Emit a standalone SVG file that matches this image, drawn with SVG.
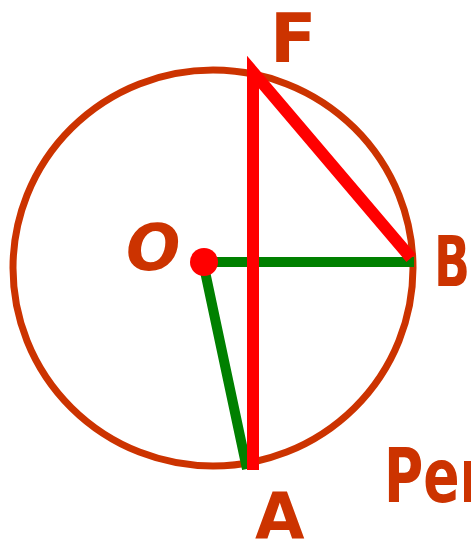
<svg xmlns="http://www.w3.org/2000/svg" width="471" height="541" viewBox="0 0 471 541">
<style>
.lbl{font-family:"DejaVu Sans","Liberation Sans",sans-serif;font-weight:bold;fill:#CC3300}
</style>
<rect width="471" height="541" fill="#fff"/>
<g id="circle"><ellipse cx="213" cy="268" rx="200" ry="198" fill="none" stroke="#CC3300" stroke-width="7"/></g>
<g id="connectors">
<polyline points="414,262 203,262 247,469" fill="none" stroke="#008000" stroke-width="10" stroke-linejoin="miter"/>
<polyline points="253,470 253,72 411,258" fill="none" stroke="#FF0000" stroke-width="12" stroke-linejoin="miter"/>
</g>
<g id="O"><circle cx="204" cy="262" r="14" fill="#FF0000"/><text class="lbl" x="126" y="270" font-size="64" font-style="italic">O</text></g>
<g id="F"><text class="lbl" x="270" y="62" font-size="68">F</text></g>
<g id="B"><text class="lbl" x="434" y="286" font-size="70" textLength="36" lengthAdjust="spacingAndGlyphs">B</text></g>
<g id="A"><text class="lbl" x="255" y="539" font-size="64">A</text></g>
<g id="P"><text class="lbl" x="384" y="502" font-size="74" textLength="102" lengthAdjust="spacingAndGlyphs">Per</text></g>
</svg>
